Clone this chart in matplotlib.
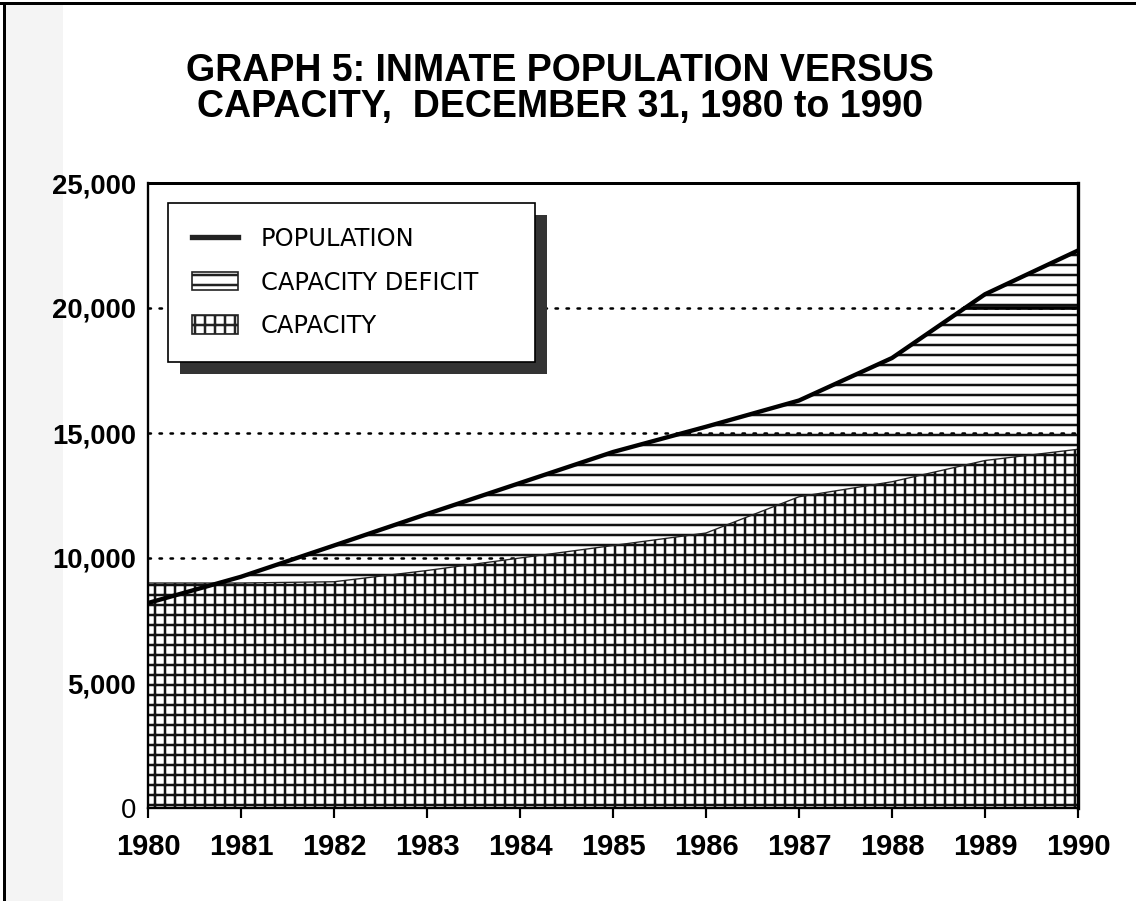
import numpy as np
import matplotlib
matplotlib.use("Agg")
import matplotlib.pyplot as plt
from matplotlib.patches import Rectangle, Patch
from matplotlib.lines import Line2D

# ---- data ----
years = [1980, 1981, 1982, 1983, 1984, 1985, 1986, 1987, 1988, 1989, 1990]
population = [8200, 9250, 10500, 11760, 13000, 14240, 15250, 16300, 18000, 20550, 22300]
capacity = [9000, 9000, 9050, 9500, 10000, 10500, 11000, 12450, 13050, 13900, 14350]
y_ticks = [0, 5000, 10000, 15000, 20000, 25000]
y_tick_labels = ["0", "5,000", "10,000", "15,000", "20,000", "25,000"]
grid_levels = [10000, 15000, 20000]
title = "GRAPH 5: INMATE POPULATION VERSUS\nCAPACITY,  DECEMBER 31, 1980 to 1990"
legend_labels = ["POPULATION", "CAPACITY DEFICIT", "CAPACITY"]

DPI = 120
plt.rcParams["font.family"] = ["Liberation Sans", "DejaVu Sans"]
plt.rcParams["hatch.linewidth"] = 1.5
plt.rcParams["hatch.color"] = "#111111"

fig = plt.figure(figsize=(1136 / DPI, 901 / DPI), dpi=DPI)
fig.patch.set_facecolor("white")

# scan-like page frame
fig.patches.append(Rectangle((5 / 1136, 0), 58 / 1136, 1 - 4 / 901,
                             transform=fig.transFigure, facecolor="#f4f4f4",
                             edgecolor="none", zorder=-10))
fig.add_artist(Line2D([4 / 1136, 4 / 1136], [0, 1 - 3 / 901], transform=fig.transFigure,
                      color="black", lw=1.8))
fig.add_artist(Line2D([0, 1], [1 - 3 / 901, 1 - 3 / 901], transform=fig.transFigure,
                      color="black", lw=1.8))

ax = fig.add_axes([148 / 1136, 1 - 808 / 901, 930 / 1136, 625 / 901])
ax.patch.set_visible(False)

x = np.array(years, dtype=float)
pop = np.array(population, dtype=float)
cap = np.array(capacity, dtype=float)

# dotted grid lines
for v in grid_levels:
    ax.axhline(v, color="black", lw=1.5, linestyle=(0, (1, 3.4)),
               dash_capstyle="round", zorder=0.5)

# capacity (grid hatch)
ax.fill_between(x, 0, cap, facecolor="white", edgecolor="#111111",
                hatch="++", linewidth=0, zorder=1)
# deficit (horizontal hatch)
ax.fill_between(x, cap, pop, where=pop >= cap, interpolate=True,
                facecolor="none", edgecolor="#111111", hatch="--",
                linewidth=0, zorder=1)
# capacity top edge
ax.plot(x, cap, color="#222222", lw=0.8, zorder=2)
# population line
ax.plot(x, pop, color="black", lw=2.6, solid_capstyle="butt", zorder=3)

# thick 20,000 line in the section where population exceeds 20,000
x_cross = np.interp(20000, pop, x)
ax.plot([x_cross, x[-1]], [20000, 20000], color="black", lw=2.2, zorder=3)

ax.set_xlim(1980, 1990)
ax.set_ylim(0, 25000)
ax.set_xticks(years)
ax.set_xticklabels([str(y) for y in years], fontsize=17.5, fontweight="bold")
ax.set_yticks(y_ticks)
ax.set_yticklabels(y_tick_labels, fontsize=16.5, fontweight="bold")
ax.get_yticklabels()[0].set_fontweight("normal")
ax.tick_params(axis="x", direction="out", length=6, width=1.3, pad=9)
ax.tick_params(axis="y", length=0, pad=7)
for s in ax.spines.values():
    s.set_linewidth(1.4)
    s.set_color("black")
ax.spines["right"].set_linewidth(2.0)
ax.spines["top"].set_linewidth(1.8)

fig.text(0.493, 1 - 89 / 901, title, ha="center", va="center",
         fontsize=22.5, fontweight="bold", linespacing=1.03)

# legend
handles = [
    Line2D([0], [0], color="#222222", lw=3.2),
    Patch(facecolor="white", edgecolor="#222222", hatch="--", linewidth=1.0),
    Patch(facecolor="white", edgecolor="#222222", hatch="++", linewidth=1.0),
]
lx0 = (168 - 148) / 930
lx1 = (535 - 148) / 930
ly_top = (808 - 203) / 625
leg = ax.legend(handles, legend_labels, loc="upper left",
                bbox_to_anchor=(lx0, ly_top - 0.5, lx1 - lx0, 0.5),
                mode="expand", borderaxespad=0, fancybox=False,
                frameon=True, edgecolor="black", framealpha=1,
                prop={"size": 14.5, "family": ["DejaVu Sans"]},
                handlelength=1.9, handleheight=0.8, handletextpad=0.95,
                labelspacing=0.8, borderpad=1.0)
leg.get_frame().set_linewidth(1.0)
leg.set_zorder(6)

fig.canvas.draw()
bb = leg.get_frame().get_window_extent()
inv = ax.transAxes.inverted()
(ax0, ay0) = inv.transform((bb.x0 + 12, bb.y0 - 12))
(ax1, ay1) = inv.transform((bb.x1 + 12, bb.y1 - 12))
ax.add_patch(Rectangle((ax0, ay0), ax1 - ax0, ay1 - ay0, transform=ax.transAxes,
                       facecolor="#333333", edgecolor="none", zorder=5.5,
                       clip_on=False))

fig.savefig("out.png", dpi=DPI)
